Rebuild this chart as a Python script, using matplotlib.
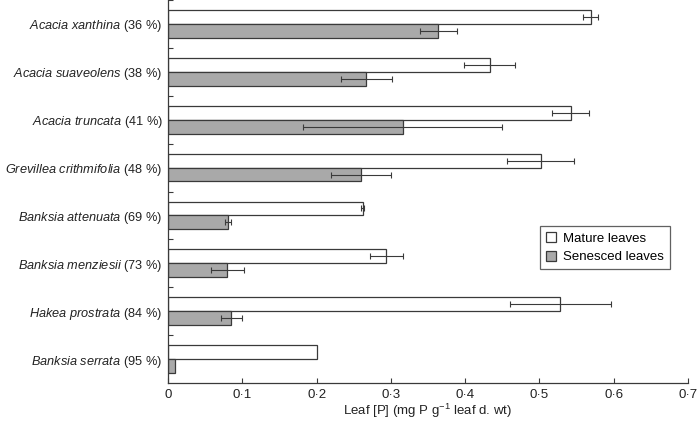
import numpy as np
import matplotlib
matplotlib.use("Agg")
from matplotlib import pyplot as plt
from matplotlib.ticker import FixedLocator, FuncFormatter

plt.rcParams['font.family'] = ['Liberation Sans', 'DejaVu Sans']
plt.rcParams['mathtext.fontset'] = 'custom'
plt.rcParams['mathtext.rm'] = 'Liberation Sans'
plt.rcParams['mathtext.it'] = 'Liberation Sans:italic'

species = ["Acacia xanthina", "Acacia suaveolens", "Acacia truncata",
           "Grevillea crithmifolia", "Banksia attenuata", "Banksia menziesii",
           "Hakea prostrata", "Banksia serrata"]
percent = [36, 38, 41, 48, 69, 73, 84, 95]

mature = [0.569, 0.433, 0.542, 0.502, 0.262, 0.294, 0.528, 0.200]
mature_err = [0.010, 0.034, 0.025, 0.045, 0.002, 0.022, 0.068, 0.0]
senesced = [0.364, 0.267, 0.316, 0.260, 0.081, 0.080, 0.085, 0.010]
senesced_err = [0.025, 0.034, 0.134, 0.040, 0.004, 0.022, 0.014, 0.0]

fig = plt.figure(figsize=(6.98, 4.22), dpi=100)
ax = fig.add_axes([168/698, 1 - 383/422, 520/698, 383/422])

y = np.arange(len(species))
h = 0.29
edge = '#3a3a3a'

ax.barh(y - h/2, mature, h, color='white', edgecolor=edge, linewidth=0.9,
        label='Mature leaves')
ax.barh(y + h/2, senesced, h, color='#a9a9a9', edgecolor=edge, linewidth=0.9,
        label='Senesced leaves')

# error bars only where there is an error
for i in range(len(species)):
    if mature_err[i] > 0:
        ax.errorbar(mature[i], y[i] - h/2, xerr=mature_err[i], fmt='none',
                    ecolor=edge, elinewidth=0.8, capsize=2.5, capthick=0.8)
    if senesced_err[i] > 0:
        ax.errorbar(senesced[i], y[i] + h/2, xerr=senesced_err[i], fmt='none',
                    ecolor=edge, elinewidth=0.8, capsize=2.5, capthick=0.8)

labels = [r"$\it{%s}$ (%d %%)" % (s.replace(" ", r"\ "), p)
          for s, p in zip(species, percent)]
ax.set_yticks(y)
ax.set_yticklabels(labels, fontsize=9.2, color='#222222')
ax.tick_params(axis='y', which='major', length=0, pad=4)
ax.yaxis.set_minor_locator(FixedLocator(np.arange(-0.5, len(species) - 1, 1.0)))
ax.tick_params(axis='y', which='minor', direction='in', length=3.5,
               width=0.8, color=edge)
ax.set_ylim(len(species) - 0.5, -0.5)

ax.set_xlim(0, 0.7)
ax.set_xticks(np.arange(0, 0.71, 0.1))
ax.xaxis.set_major_formatter(FuncFormatter(
    lambda v, p: "0" if abs(v) < 1e-9 else ("%.1f" % v).replace(".", "\u00b7")))
ax.tick_params(axis='x', direction='in', length=3.5, width=0.8, color=edge,
               labelsize=9.5, labelcolor='#222222', pad=4)
ax.set_xlabel(r"Leaf [P] (mg P g$^{-1}$ leaf d. wt)", fontsize=9.5,
              color='#222222', labelpad=1)

for s in ['top', 'right']:
    ax.spines[s].set_visible(False)
for s in ['left', 'bottom']:
    ax.spines[s].set_color(edge)
    ax.spines[s].set_linewidth(0.9)

leg = ax.legend(loc='upper left', bbox_to_anchor=(372/520, 1 - 226/383),
                fontsize=9.5, frameon=True, fancybox=False, handlelength=0.8,
                handleheight=0.8, handletextpad=0.5, borderpad=0.45,
                labelspacing=0.45, borderaxespad=0)
leg.get_frame().set_edgecolor(edge)
leg.get_frame().set_linewidth(0.9)

fig.savefig("out.png", dpi=100)
